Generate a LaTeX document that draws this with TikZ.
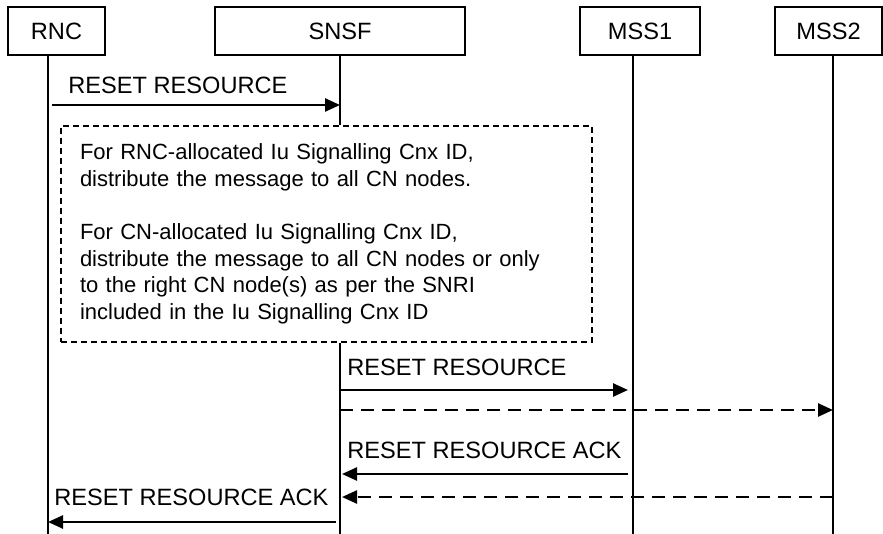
\documentclass[tikz,border=0pt]{standalone}
\usepackage{fontspec}
\setmainfont{Liberation Sans}
\usetikzlibrary{arrows.meta}
\begin{document}
\begin{tikzpicture}[x=0.5pt,y=-0.5pt,
  every node/.style={font=\fontsize{11.8}{13}\selectfont},
  entity/.style={draw,line width=0.75pt,minimum height=24pt,inner sep=0pt},
  life/.style={line width=0.75pt},
  msg/.style={line width=1.25pt,-{Triangle[length=7.5pt,width=6.5pt]}},
  optmsg/.style={msg,dash pattern=on 6.5pt off 4pt},
  lbl/.style={anchor=west,inner sep=0pt},
  note/.style={draw,line width=0.75pt,dash pattern=on 3pt off 2pt}]
\useasboundingbox (0,0) rectangle (883,534);
% entities
\node[entity,minimum width=48.5pt](RNC) at (56.5,31){RNC};
\node[entity,minimum width=125pt](SNSF) at (340,31){SNSF};
\node[entity,minimum width=60pt](MSS1) at (640,31){MSS1};
\node[entity,minimum width=53.5pt](MSS2) at (828.5,31){MSS2};
\coordinate (rncEnd) at (48,534);
\coordinate (mss1End) at (633,534);
\coordinate (mss2End) at (833,534);
% note
\node[note,minimum width=265.5pt,minimum height=108pt,text width=246.5pt,align=left,inner xsep=9.5pt,
  font=\fontsize{11}{13.3}\selectfont](Dist) at (326.5,234){For RNC-allocated Iu Signalling Cnx ID,\\distribute the message to all CN nodes.\\[13.3pt]For CN-allocated Iu Signalling Cnx ID,\\distribute the message to all CN nodes or only\\to the right CN node(s) as per the SNRI\\included in the Iu Signalling Cnx ID};
% lifelines
\draw[life] (RNC.south -| rncEnd) -- (rncEnd);
\draw[life] (SNSF.south) -- (SNSF.south |- Dist.north);
\draw[life] (SNSF.south |- Dist.south) -- (SNSF.south |- rncEnd);
\draw[life] (MSS1.south -| mss1End) -- (mss1End);
\draw[life] (MSS2.south -| mss2End) -- (mss2End);
% messages
\coordinate (a1) at (52,105); \coordinate (b1) at (340,105);
\draw[msg] (a1) -- (b1);
\node[lbl](L1) at (68,85){RESET RESOURCE};
\coordinate (a2) at (340,390); \coordinate (b2) at (628,390);
\draw[msg] (a2) -- (b2);
\node[lbl](L2) at (347,367){RESET RESOURCE};
\coordinate (a3) at (340,410); \coordinate (b3) at (833,410);
\draw[optmsg] (a3) -- (b3);
\coordinate (a4) at (628,474); \coordinate (b4) at (342,474);
\draw[msg] (a4) -- (b4);
\node[lbl](L4) at (347,450){RESET RESOURCE ACK};
\coordinate (a5) at (833,497); \coordinate (b5) at (342,497);
\draw[optmsg] (a5) -- (b5);
\coordinate (a6) at (336,522); \coordinate (b6) at (48,522);
\draw[msg] (a6) -- (b6);
\node[lbl](L6) at (54,497){RESET RESOURCE ACK};
\end{tikzpicture}
\end{document}
